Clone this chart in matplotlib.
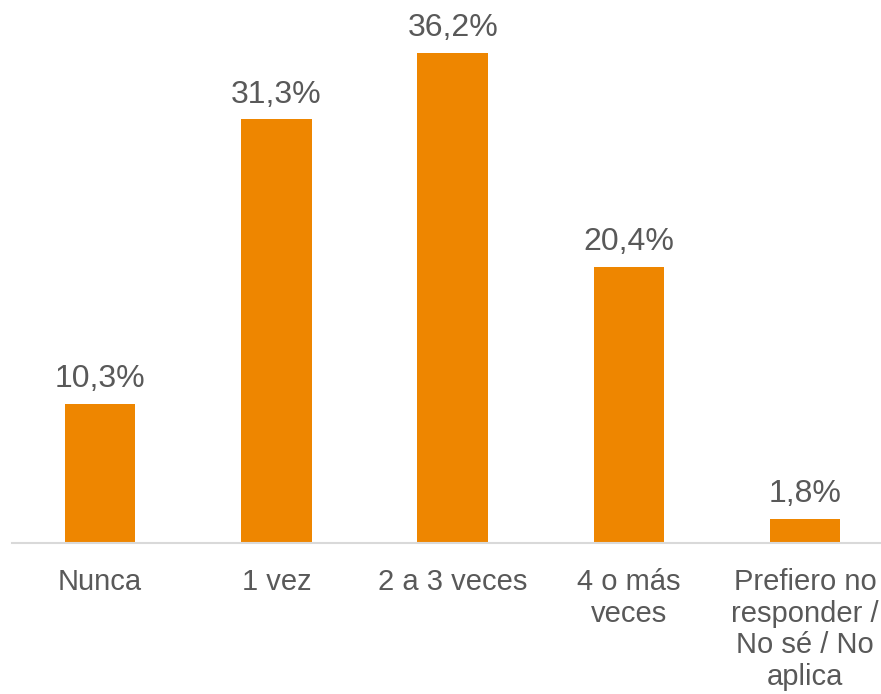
import matplotlib.pyplot as plt

# Datos
categorias = ['Nunca', '1 vez', '2 a 3 veces', '4 o más\nveces',
              'Prefiero no\nresponder /\nNo sé / No\naplica']
valores = [10.3, 31.3, 36.2, 20.4, 1.8]
etiquetas = ['10,3%', '31,3%', '36,2%', '20,4%', '1,8%']

plt.rcParams['font.family'] = ['Liberation Sans', 'DejaVu Sans']

fig = plt.figure(figsize=(8.81, 6.94), dpi=100)
ax = fig.add_axes([12/881, 0.2176, 1 - 12/881, 0.780])

x = range(len(categorias))
barras = ax.bar(x, valores, width=0.4, color='#EE8600')

for b, t in zip(barras, etiquetas):
    ax.annotate(t, (b.get_x() + b.get_width()/2, b.get_height()),
                xytext=(0, 7), textcoords='offset points',
                ha='center', va='bottom', fontsize=23, color='#595959')

ax.set_xlim(-0.5, 4.43)
ax.set_ylim(0, 40)
ax.set_xticks(list(x))
ax.set_xticklabels(categorias, fontsize=21, color='#595959', linespacing=1.17)
ax.tick_params(axis='x', length=0, pad=18)
ax.set_yticks([])
for s in ['top', 'right', 'left']:
    ax.spines[s].set_visible(False)
ax.spines['bottom'].set_color('#D9D9D9')
ax.spines['bottom'].set_linewidth(1.5)

fig.savefig('out.png', dpi=100)
